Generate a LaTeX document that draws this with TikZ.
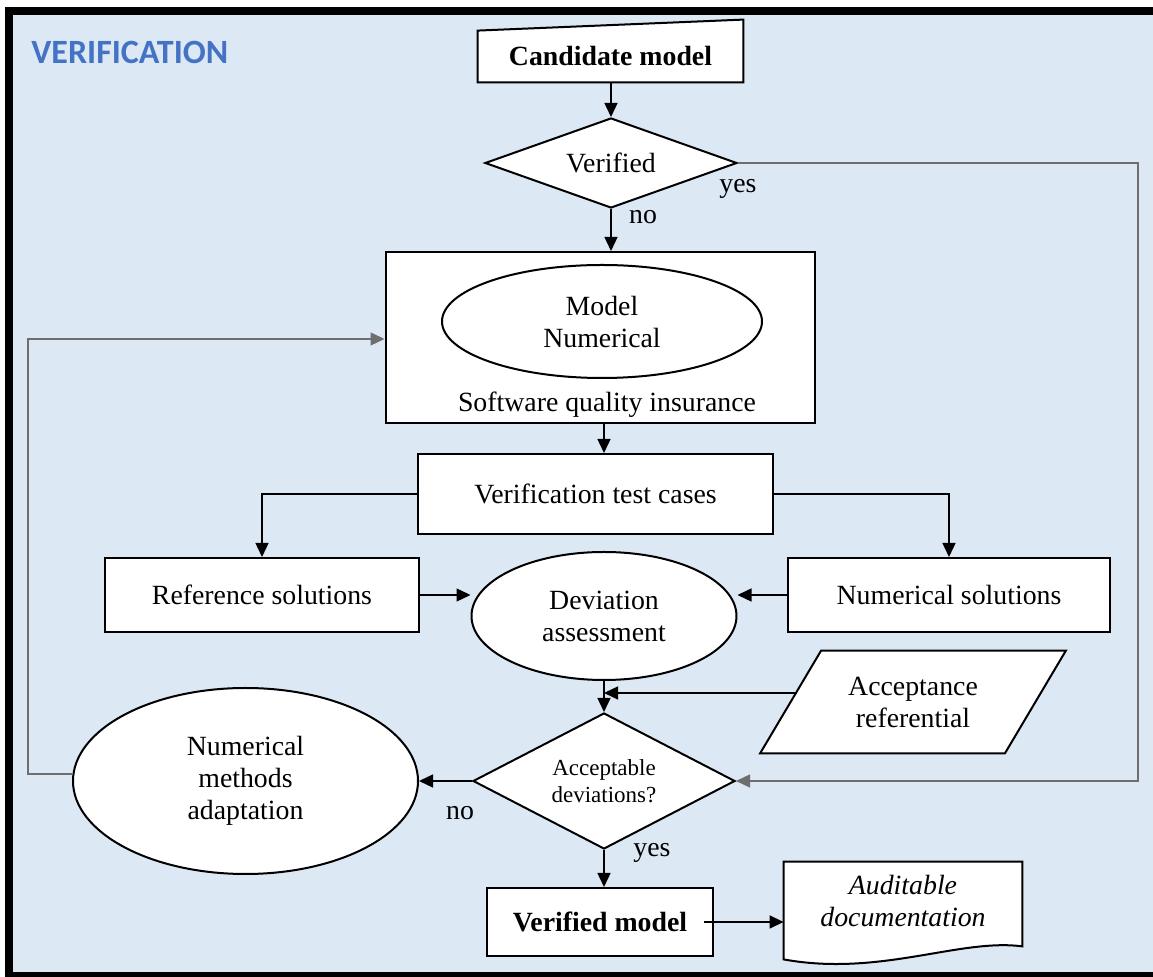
\documentclass[tikz,border=0pt]{standalone}
\usepackage{fontspec}
\setmainfont{Liberation Serif}
\newfontfamily\carlito{Carlito}
\usetikzlibrary{shapes.geometric,arrows.meta}
\pgfdeclarelayer{bglayer}
\pgfdeclarelayer{shplayer}
\pgfsetlayers{bglayer,shplayer,main}
\definecolor{bgblue}{HTML}{DDE8F5}
\definecolor{titleblue}{HTML}{4472C4}
\definecolor{loopgray}{HTML}{6E6E6E}
\begin{document}
\begin{tikzpicture}[x=0.5pt,y=-0.5pt,
  txt/.style={font=\rmfamily\fontsize{13.9}{16}\selectfont, align=center, inner sep=0pt},
  boldtxt/.style={font=\rmfamily\fontsize{13.9}{16}\selectfont\bfseries},
  box/.style={txt, draw, line width=1pt, fill=white, rectangle},
  ell/.style={txt, draw, line width=1pt, fill=white, ellipse},
  dia/.style={txt, draw, line width=1pt, fill=white, diamond},
  shp/.style={draw, line width=1pt, fill=white},
  arr/.style={line width=0.7pt, -{Triangle[length=7pt,width=6.5pt]}},
  garr/.style={arr, draw=loopgray},
  lbl/.style={font=\rmfamily\fontsize{13.9}{16}\selectfont, inner sep=0pt},
]
\useasboundingbox (0,0) rectangle (1153,977);
\begin{pgfonlayer}{bglayer}
  \fill[white] (0,0) rectangle (1153,977);
  \fill[black] (5,7) rectangle (1153,977);
  \fill[bgblue] (13,15) rectangle (1153,972);
\end{pgfonlayer}

\node[anchor=west, text=titleblue, inner sep=0pt,
  font=\carlito\bfseries\fontsize{17}{20}\selectfont] (title) at (31,52) {VERIFICATION};

% nodes
\node[txt, boldtxt, minimum width=132.5pt, minimum height=25.5pt] (cand) at (610.5,56.5) {Candidate model};
\node[dia, aspect=2.8, minimum width=126pt, minimum height=45pt] (ver) at (611,163) {Verified};
\node[box, minimum width=214.5pt, minimum height=85.5pt] (big) at (600,337.5) {};
\node[ell, minimum width=160pt, minimum height=56.5pt] (mn) at (602,321.5) {Model\\Numerical};
\node[txt] (sqi) at (607,405) {Software quality insurance};
\node[box, minimum width=177.5pt, minimum height=40pt] (vtc) at (595.5,494) {Verification test cases};
\node[box, minimum width=157pt, minimum height=37pt] (ref) at (262,595) {Reference solutions};
\node[ell, minimum width=132.5pt, minimum height=64pt] (dev) at (604,616) {Deviation\\assessment};
\node[box, minimum width=161pt, minimum height=37pt] (num) at (949,595) {Numerical solutions};
\node[txt, minimum width=122pt, minimum height=51pt] (acc) at (913,702) {Acceptance\\referential};
\node[dia, aspect=1.93, minimum width=131pt, minimum height=68pt,
  font=\rmfamily\fontsize{11.5}{13.5}\selectfont] (acd) at (604,781) {Acceptable\\deviations?};
\node[ell, minimum width=172.5pt, minimum height=93pt] (nma) at (245.5,781) {Numerical\\methods\\adaptation};
\node[box, boldtxt, minimum width=113pt, minimum height=34pt] (vm) at (600,922) {Verified model};
\node[txt, font=\rmfamily\fontsize{13.9}{16}\selectfont\itshape, minimum width=119pt, minimum height=39pt] (doc) at (903,901) {Auditable\\documentation};

% special shapes
\begin{pgfonlayer}{shplayer}
  \draw[shp] (cand.south west) -- (cand.south east) -- ([yshift=5.5pt]cand.north east) -- (cand.north west) -- cycle;
  \draw[shp] ([xshift=-15.25pt]acc.south west) -- ([xshift=-15.25pt]acc.south east)
     -- ([xshift=15.25pt]acc.north east) -- ([xshift=15.25pt]acc.north west) -- cycle;
  \draw[shp] (doc.north west) -- (doc.north east) -- ([yshift=-3pt]doc.south east)
     .. controls (960,938) and (880,977) .. ([yshift=-9.5pt]doc.south west) -- cycle;
\end{pgfonlayer}

% labels
\node[lbl] (lno1) at (643,217) {no};
\node[lbl] (lyes1) at (738,189) {yes};
\node[lbl] (lno2) at (460,813) {no};
\node[lbl] (lyes2) at (652,853) {yes};

% connectors
\coordinate (rc) at (1138,163);
\coordinate (lc) at (28,339);
\coordinate (accin) at ([xshift=3pt,yshift=4.5pt]acc.west);
\draw[arr] (cand.south -| ver.north) -- (ver.north);
\draw[arr] (ver.south) -- (ver.south |- big.north);
\draw[garr] (ver.east) -- (ver.east -| rc) -- (rc |- acd.east) -- (acd.east);
\draw[arr] (big.south -| dev.north) -- (vtc.north -| dev.north);
\draw[arr] (vtc.west) -| (ref.north);
\draw[arr] (vtc.east) -| (num.north);
\draw[arr] (ref.east) -- (ref.east -| dev.west);
\draw[arr] (num.west) -- (num.west -| dev.east);
\draw[arr] (dev.south) -- (acd.north);
\draw[arr] (accin) -- (accin -| dev.south);
\draw[arr] (acd.west) -- (nma.east);
\draw[garr] ([yshift=3.5pt]nma.west) -| (lc) -- (lc -| big.west);
\draw[arr] (acd.south) -- (acd.south |- vm.north);
\draw[arr] ([xshift=-5pt]vm.east) -- (vm.east -| doc.west);
\end{tikzpicture}
\end{document}
